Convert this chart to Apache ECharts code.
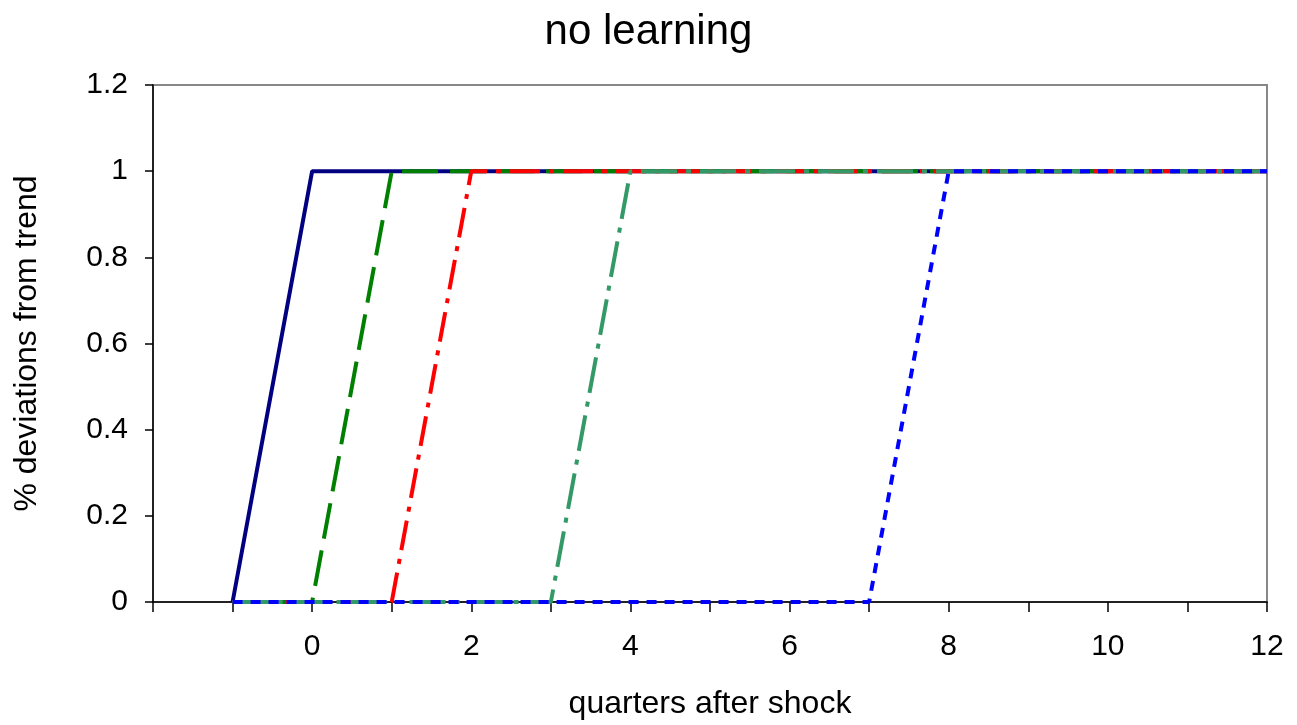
<!DOCTYPE html>
<html><head><meta charset="utf-8">
<script src="https://cdn.jsdelivr.net/npm/echarts@6/dist/echarts.min.js"></script>
<style>html,body{margin:0;padding:0;background:#fff}#c{width:1297px;height:725px}</style>
</head><body><div id="c"></div>
<script>
const quarters = [-1,0,1,2,3,4,5,6,7,8,9,10,11,12];
const shockNow   = [0,1,1,1,1,1,1,1,1,1,1,1,1,1];
const shock1     = [0,0,1,1,1,1,1,1,1,1,1,1,1,1];
const shock2     = [0,0,0,1,1,1,1,1,1,1,1,1,1,1];
const shock4     = [0,0,0,0,0,1,1,1,1,1,1,1,1,1];
const shock8     = [0,0,0,0,0,0,0,0,0,1,1,1,1,1];
const yTicks = [0,0.2,0.4,0.6,0.8,1,1.2];

const pair = v => quarters.map((q,i)=>[q,v[i]]);
const font = 'Liberation Sans, Arial, sans-serif';
function s(name, data, color, type){
  return {name, type:'line', data:pair(data), symbol:'none', animation:false,
    lineStyle:{color, width:4, type, cap:'butt'}};
}
const chart = echarts.init(document.getElementById('c'));
chart.setOption({
  animation:false,
  title:{text:'no learning', left:'center', top:6, textStyle:{fontFamily:font, fontSize:42, fontWeight:'normal', color:'#000'}},
  grid:{left:153, right:30, top:85, bottom:119, show:true, borderColor:'#888', borderWidth:2},
  xAxis:{type:'value', min:-2, max:12, interval:1,
    name:'quarters after shock', nameLocation:'middle', nameGap:86,
    nameTextStyle:{fontFamily:font, fontSize:32, color:'#000'},
    axisLine:{onZero:false, lineStyle:{color:'#000', width:1.5}},
    axisTick:{show:true, length:10, lineStyle:{color:'#000', width:1.5}},
    axisLabel:{fontFamily:font, fontSize:30, color:'#000', margin:30,
      formatter:v=> (v>=0 && v%2===0) ? String(v) : ''},
    splitLine:{show:false}},
  yAxis:{type:'value', min:0, max:1.2, interval:0.2,
    name:'% deviations from trend', nameLocation:'middle', nameGap:110,
    nameTextStyle:{fontFamily:font, fontSize:32, color:'#000'},
    axisLine:{show:true, onZero:false, lineStyle:{color:'#000', width:1.5}},
    axisTick:{show:true, length:8, lineStyle:{color:'#000', width:1.5}},
    axisLabel:{fontFamily:font, fontSize:30, color:'#000', margin:25,
      formatter:v=>{const r=Math.round(v*10)/10; return yTicks.includes(r)? String(r):'';}},
    splitLine:{show:false}},
  series:[
    s('now', shockNow, '#000080', 'solid'),
    s('1q', shock1, '#008000', [36,12]),
    s('2q', shock2, '#ff0000', [30,9,5,9]),
    s('4q', shock4, '#339966', [36,9,5,9]),
    s('8q', shock8, '#0000ff', [10,8])
  ]
});
</script></body></html>
